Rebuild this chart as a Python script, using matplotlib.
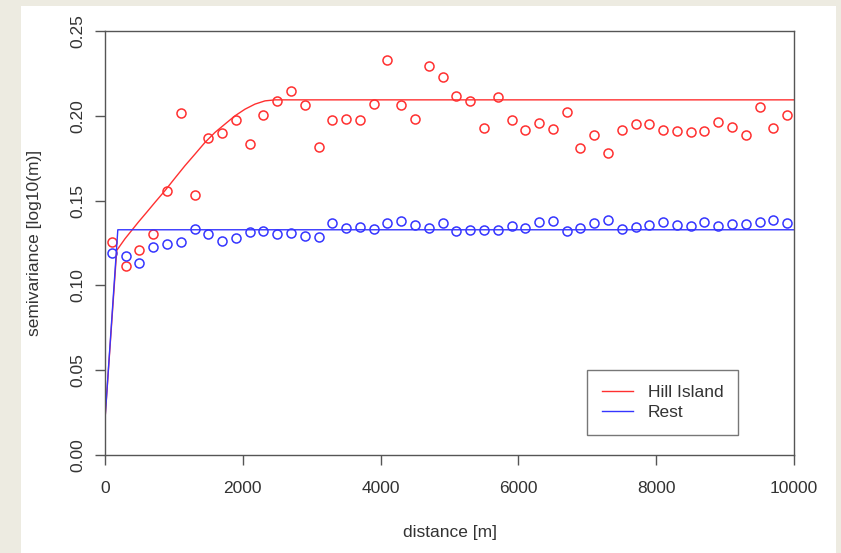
import matplotlib.pyplot as plt
from matplotlib.patches import Rectangle

# sample variogram: lag distance [m]
dist = [100, 300, 500, 700, 900, 1100, 1300, 1500, 1700, 1900,
        2100, 2300, 2500, 2700, 2900, 3100, 3300, 3500, 3700, 3900,
        4100, 4300, 4500, 4700, 4900, 5100, 5300, 5500, 5700, 5900,
        6100, 6300, 6500, 6700, 6900, 7100, 7300, 7500, 7700, 7900,
        8100, 8300, 8500, 8700, 8900, 9100, 9300, 9500, 9700, 9900]

# semivariance, Hill Island
gamma_hill = [0.1255, 0.1112, 0.1206, 0.1302, 0.1559, 0.2014, 0.1535, 0.1867, 0.1896, 0.1976,
              0.1831, 0.2004, 0.2088, 0.2145, 0.2065, 0.1816, 0.1975, 0.1980, 0.1975, 0.2071,
              0.2329, 0.2065, 0.1984, 0.2292, 0.2228, 0.2114, 0.2086, 0.1931, 0.2110, 0.1975,
              0.1918, 0.1957, 0.1924, 0.2025, 0.1810, 0.1886, 0.1782, 0.1918, 0.1951, 0.1949,
              0.1916, 0.1910, 0.1906, 0.1912, 0.1963, 0.1933, 0.1888, 0.2053, 0.1927, 0.2004]

# semivariance, Rest
gamma_rest = [0.1192, 0.1171, 0.1133, 0.1224, 0.1243, 0.1253, 0.1331, 0.1306, 0.1263, 0.1282,
              0.1314, 0.1320, 0.1306, 0.1310, 0.1292, 0.1284, 0.1365, 0.1341, 0.1343, 0.1335,
              0.1365, 0.1380, 0.1359, 0.1337, 0.1367, 0.1318, 0.1324, 0.1324, 0.1328, 0.1349,
              0.1339, 0.1375, 0.1382, 0.1318, 0.1339, 0.1365, 0.1386, 0.1335, 0.1343, 0.1355,
              0.1375, 0.1359, 0.1353, 0.1376, 0.1351, 0.1363, 0.1361, 0.1376, 0.1384, 0.1369]

# fitted model lines
model_hill_x = [0, 170, 290, 387, 484, 605, 726, 871, 1016, 1161, 1306, 1451,
                1596, 1741, 1887, 2032, 2177, 2322, 2467, 10000]
model_hill_y = [0.021, 0.1206, 0.1275, 0.1324, 0.1373, 0.1431, 0.1490, 0.1559, 0.1633, 0.1706,
                0.1774, 0.1843, 0.1902, 0.1951, 0.2000, 0.2039, 0.2069, 0.2088, 0.2094, 0.2094]
model_rest_x = [0, 186, 10000]
model_rest_y = [0.021, 0.1328, 0.1328]

plt.rcParams['font.family'] = ['Liberation Sans', 'DejaVu Sans']

fig = plt.figure(figsize=(8.41, 5.53), dpi=100)
fig.patch.set_facecolor('#edebe1')
# white panel behind the plot
fig.add_artist(Rectangle((21 / 841, 0), 815 / 841, 547 / 553,
                         transform=fig.transFigure, facecolor='white',
                         edgecolor='none', zorder=-10))

ax = fig.add_axes([105 / 841, (553 - 455) / 553, 689 / 841, 424 / 553])
ax.set_facecolor('white')

red = '#ff3030'
blue = '#3535ff'
ax.plot(dist, gamma_hill, 'o', mfc='none', mec=red, ms=6.5, mew=1.1)
ax.plot(dist, gamma_rest, 'o', mfc='none', mec=blue, ms=6.5, mew=1.1)
ax.plot(model_hill_x, model_hill_y, color=red, lw=1.0, label='Hill Island')
ax.plot(model_rest_x, model_rest_y, color=blue, lw=1.0, label='Rest')

ax.set_xlim(0, 10000)
ax.set_ylim(0, 0.25)
ax.set_xticks([0, 2000, 4000, 6000, 8000, 10000])
ax.set_yticks([0.00, 0.05, 0.10, 0.15, 0.20, 0.25])
ax.set_yticklabels(['0.00', '0.05', '0.10', '0.15', '0.20', '0.25'],
                   rotation=90, va='center')

for s in ax.spines.values():
    s.set_color('#555555')
    s.set_linewidth(1.0)
ax.tick_params(direction='out', length=7.5, width=1.0, color='#555555',
               labelsize=12.5, labelcolor='#333333')
ax.tick_params(axis='x', pad=11)
ax.tick_params(axis='y', pad=6.5)

ax.set_xlabel('distance [m]', fontsize=12.5, color='#333333', va='center')
ax.xaxis.set_label_coords(0.5, (455 - 533) / 424)
ax.set_ylabel('semivariance [log10(m)]', fontsize=12.5, color='#333333', va='center')
ax.yaxis.set_label_coords((35 - 105) / 689, 0.5)

leg = ax.legend(loc='upper left', bbox_to_anchor=((587 - 105) / 689, (455 - 370) / 424),
                borderaxespad=0, fancybox=False, fontsize=12.5, handlelength=1.8,
                handletextpad=0.85, labelspacing=0.27, borderpad=0.85)
leg.get_frame().set_edgecolor('#555555')
leg.get_frame().set_linewidth(1.0)
for t in leg.get_texts():
    t.set_color('#333333')

fig.savefig('out.png', dpi=100, facecolor=fig.get_facecolor())
